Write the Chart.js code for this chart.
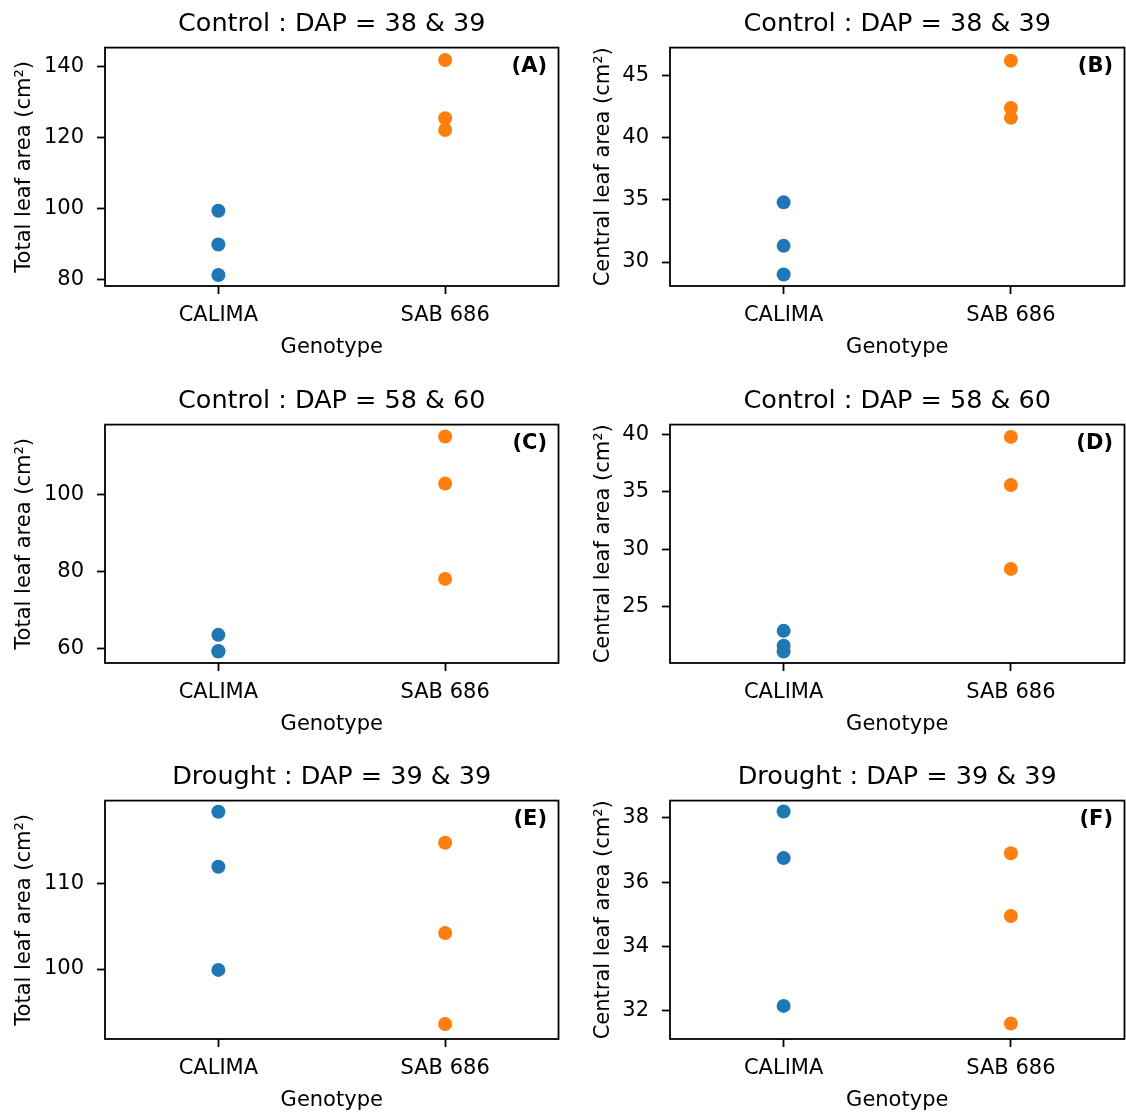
<!DOCTYPE html>
<html lang="en">
	<head>
		<meta charset="utf-8">
		<title>Leaf area by genotype</title>
		<script src="https://cdn.jsdelivr.net/npm/chart.js"></script>
		<style>
			body { margin: 0; width: 1126px; height: 1114px; overflow: hidden; background: #fff; position: relative; }
			canvas { position: absolute; }
		</style>
	</head>
	<body>
		<canvas id="panelA" width="563" height="370" style="left:0;top:0"></canvas>
		<canvas id="panelB" width="563" height="370" style="left:563px;top:0"></canvas>
		<canvas id="panelC" width="563" height="370" style="left:0;top:377px"></canvas>
		<canvas id="panelD" width="563" height="370" style="left:563px;top:377px"></canvas>
		<canvas id="panelE" width="563" height="370" style="left:0;top:753px"></canvas>
		<canvas id="panelF" width="563" height="370" style="left:563px;top:753px"></canvas>
		<script>
			const genotypes = ["CALIMA", "SAB 686"]
			const colors = ["#1f77b4", "#ff7f0e"]

			// Total leaf area (left column), central leaf area (right column)
			const calimaA = [99.5, 90.0, 81.4]
			const sabA = [141.9, 125.5, 122.2]
			const calimaB = [34.8, 31.3, 29.0]
			const sabB = [46.2, 42.4, 41.6]
			const calimaC = [63.6, 59.4, 59.3]
			const sabC = [115.0, 102.8, 78.1]
			const calimaD = [22.9, 21.6, 21.1]
			const sabD = [39.8, 35.6, 28.3]
			const calimaE = [118.3, 111.9, 99.9]
			const sabE = [114.7, 104.2, 93.6]
			const calimaF = [38.2, 36.75, 32.15]
			const sabF = [36.9, 34.95, 31.6]

			const ticksA = [80, 100, 120, 140]
			const ticksB = [30, 35, 40, 45]
			const ticksC = [60, 80, 100]
			const ticksD = [25, 30, 35, 40]
			const ticksE = [100, 110]
			const ticksF = [32, 34, 36, 38]

			const rangeA = [78.3, 145.4]
			const rangeB = [28.07, 47.25]
			const rangeC = [56.3, 118.1]
			const rangeD = [20.1, 40.87]
			const rangeE = [91.86, 119.6]
			const rangeF = [31.12, 38.54]

			const titleTop = "Control : DAP = 38 & 39"
			const titleMid = "Control : DAP = 58 & 60"
			const titleBottom = "Drought : DAP = 39 & 39"
			const labelTotal = "Total leaf area (cm²)"
			const labelCentral = "Central leaf area (cm²)"

			Chart.defaults.font.family = "'DejaVu Sans', sans-serif"
			Chart.defaults.color = "#000"

			const framePlugin = {
				id: "frame",
				afterDraw(chart, args, opts) {
					const {ctx, chartArea: a} = chart
					ctx.save()
					ctx.strokeStyle = "#000"
					ctx.lineWidth = 1.8
					ctx.strokeRect(a.left, a.top, a.right - a.left, a.bottom - a.top)
					ctx.font = "bold 21px 'DejaVu Sans'"
					ctx.textAlign = "right"
					ctx.textBaseline = "middle"
					ctx.fillStyle = "#000"
					ctx.fillText(opts.letter, a.right - 11.5, a.top + 19)
					ctx.restore()
				}
			}

			function panel(id, letter, title, yLabel, calima, sab, range, ticks, rightCol) {
				const axisWidth = rightCol ? 107 : 105
				new Chart(document.getElementById(id).getContext("2d"), {
					type: "scatter",
					data: {
						datasets: [calima, sab].map((vals, i) => ({
							label: genotypes[i],
							data: vals.map(v => ({x: i, y: v})),
							backgroundColor: colors[i],
							borderWidth: 0,
							pointRadius: 7,
							pointHoverRadius: 7
						}))
					},
					options: {
						responsive: false,
						animation: false,
						layout: {autoPadding: false, padding: {left: 0, right: rightCol ? 1.5 : 4.5, top: 0, bottom: 0}},
						scales: {
							x: {
								type: "linear",
								min: -0.5,
								max: 1.5,
								afterBuildTicks: s => { s.ticks = [{value: 0}, {value: 1}] },
								afterFit: s => {
									s.height = 84
									s.paddingLeft = 0
									s.paddingRight = 0
								},
								ticks: {
									callback: v => genotypes[v],
									font: {size: 21},
									padding: 9,
									maxRotation: 0
								},
								grid: {drawOnChartArea: false, drawTicks: true, tickLength: 8, tickWidth: 1.8, tickColor: "#000"},
								border: {display: false},
								title: {display: true, text: "Genotype", font: {size: 21}, padding: {top: 0, bottom: 9.7}}
							},
							y: {
								min: range[0],
								max: range[1],
								afterBuildTicks: s => { s.ticks = ticks.map(v => ({value: v})) },
								afterFit: s => { s.width = axisWidth },
								ticks: {font: {size: 21}, padding: 13},
								grid: {drawOnChartArea: false, drawTicks: true, tickLength: 8, tickWidth: 1.8, tickColor: "#000"},
								border: {display: false},
								title: {display: true, text: yLabel, font: {size: 21}, padding: {top: rightCol ? 28.4 : 11.5, bottom: 0}}
							}
						},
						plugins: {
							legend: {display: false},
							tooltip: {enabled: false},
							title: {display: true, text: title, fullSize: false, font: {size: 25.5, weight: "normal"}, color: "#000", padding: {top: 9, bottom: 8}},
							frame: {letter: letter}
						}
					},
					plugins: [framePlugin]
				})
			}

			panel("panelA", "(A)", titleTop, labelTotal, calimaA, sabA, rangeA, ticksA, false)
			panel("panelB", "(B)", titleTop, labelCentral, calimaB, sabB, rangeB, ticksB, true)
			panel("panelC", "(C)", titleMid, labelTotal, calimaC, sabC, rangeC, ticksC, false)
			panel("panelD", "(D)", titleMid, labelCentral, calimaD, sabD, rangeD, ticksD, true)
			panel("panelE", "(E)", titleBottom, labelTotal, calimaE, sabE, rangeE, ticksE, false)
			panel("panelF", "(F)", titleBottom, labelCentral, calimaF, sabF, rangeF, ticksF, true)
		</script>
	</body>
</html>
